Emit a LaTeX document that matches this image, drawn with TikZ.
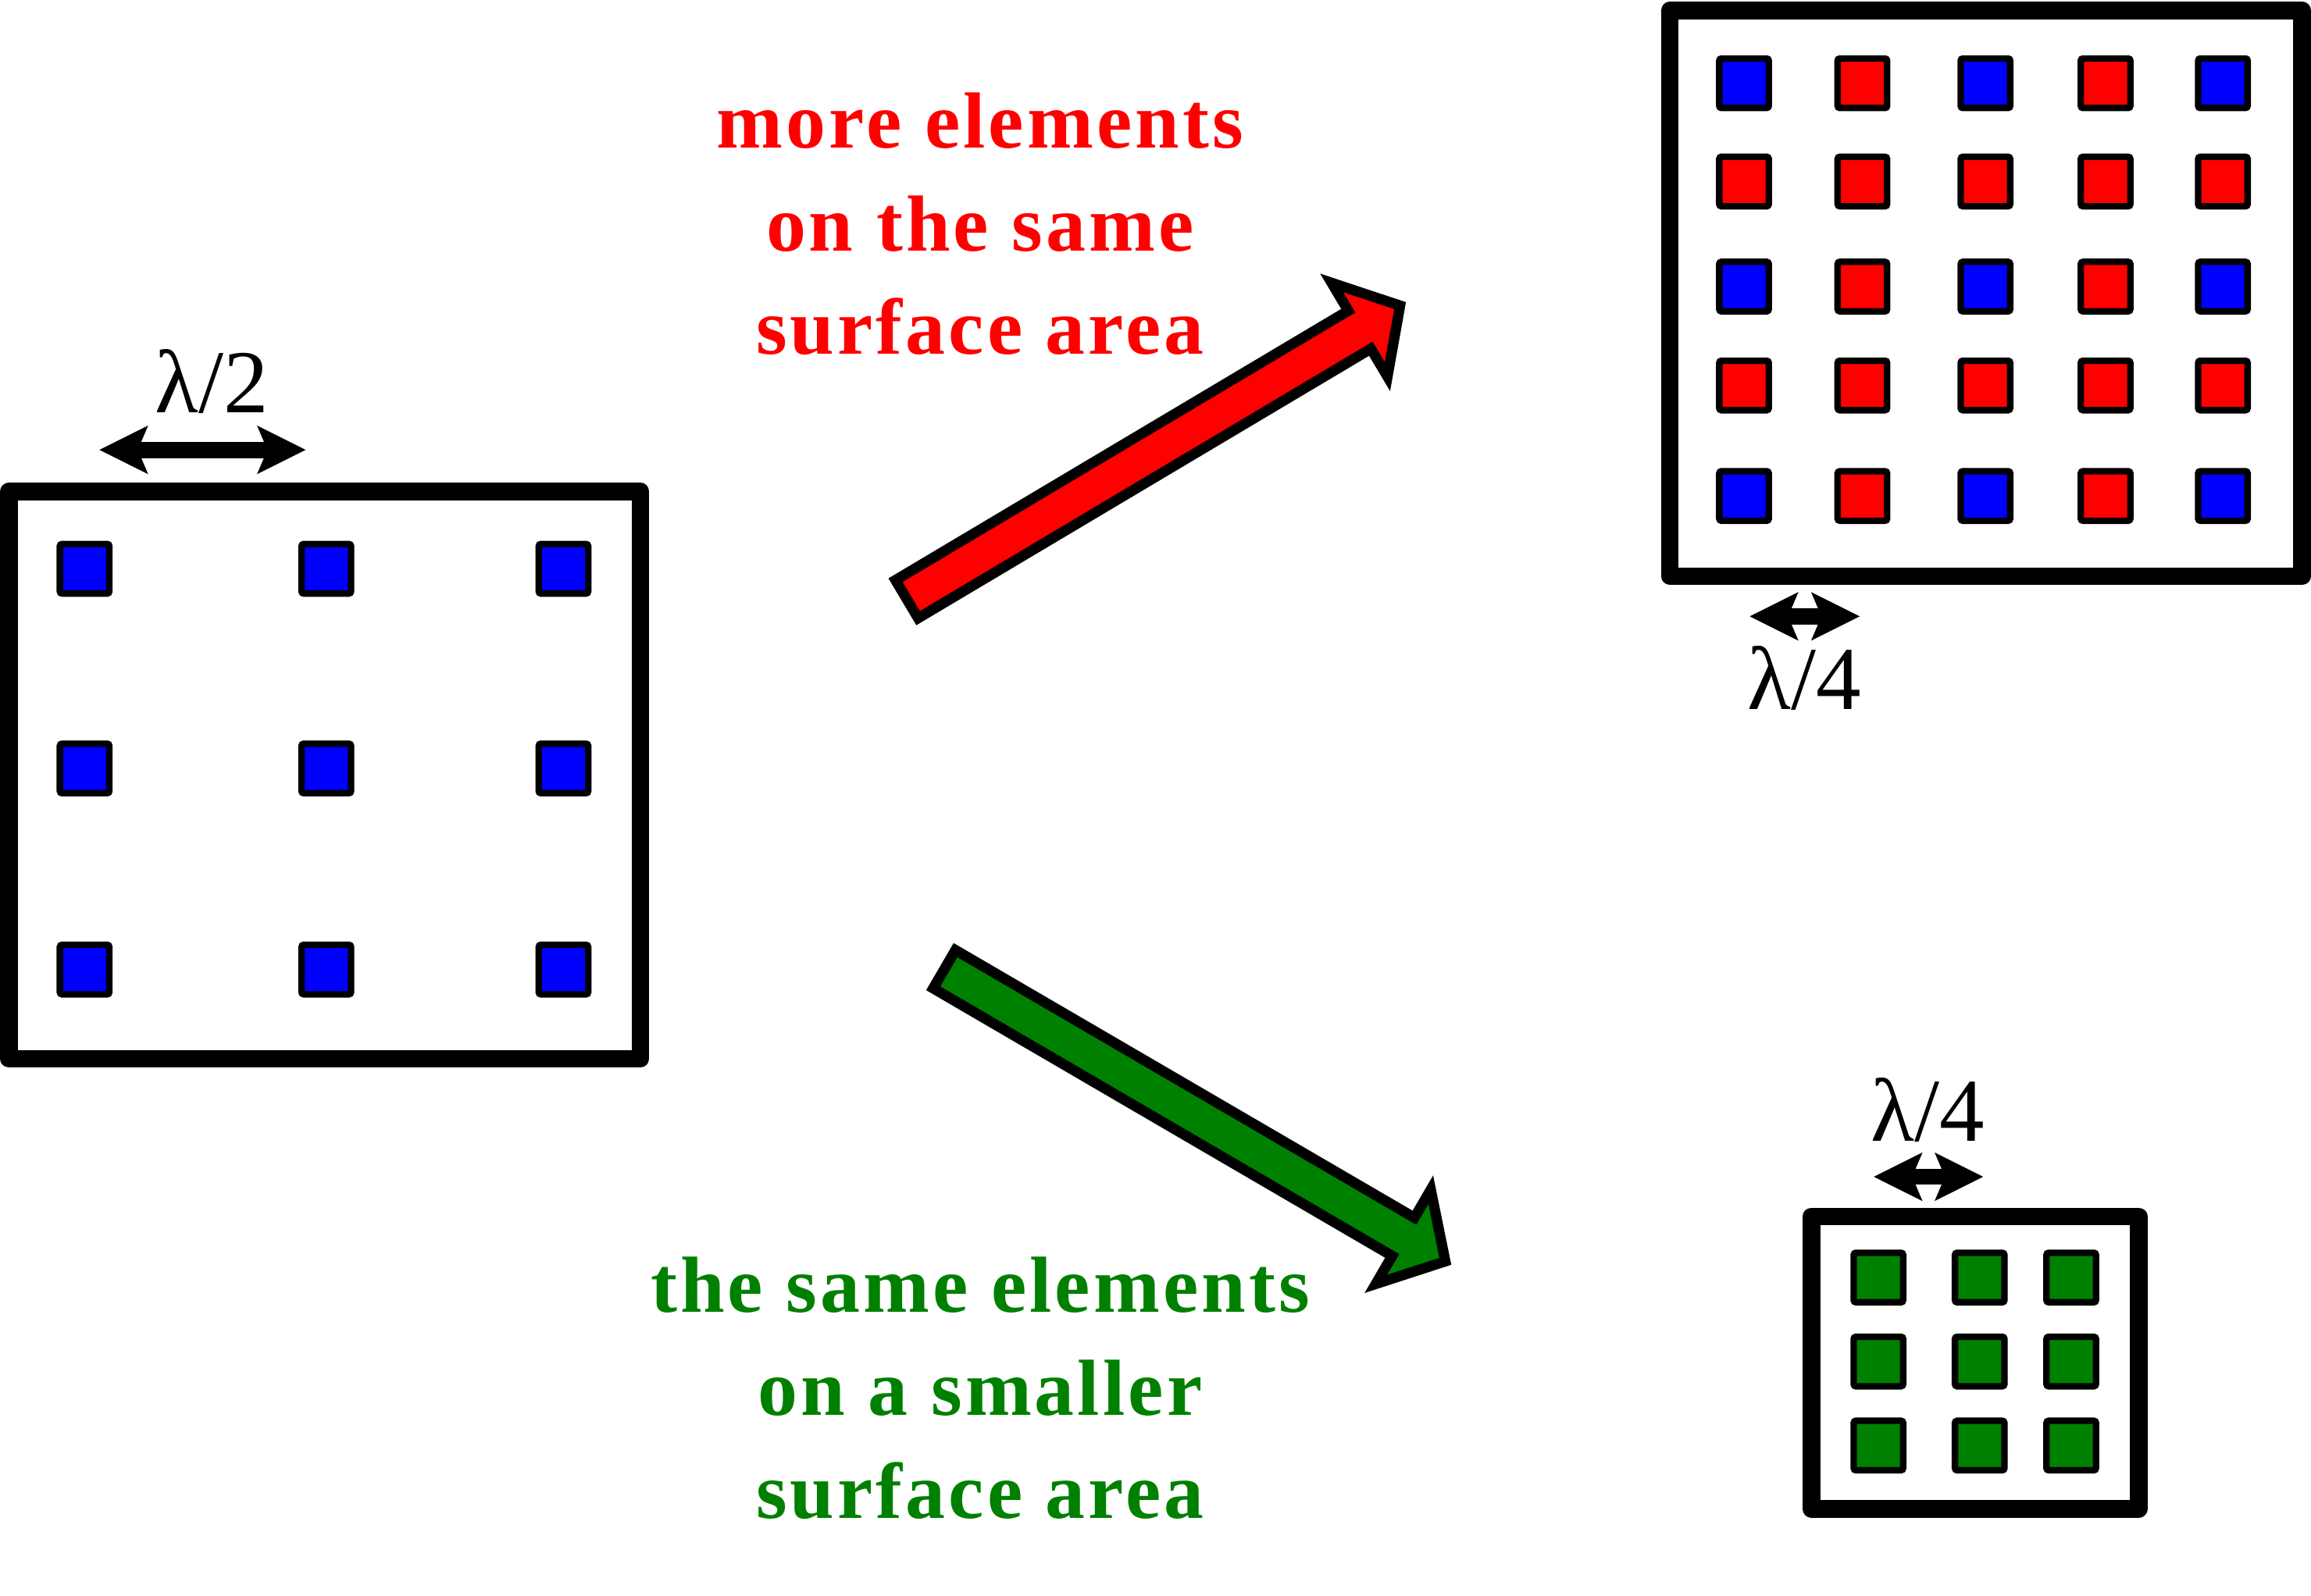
\documentclass[tikz,border=0pt]{standalone}
\usepackage{fontspec}
\setmainfont{Liberation Serif}
\newfontfamily\msgfont[LetterSpace=4]{Liberation Serif}
\usetikzlibrary{arrows.meta}
\definecolor{elblue}{RGB}{0,0,255}
\definecolor{elred}{RGB}{255,0,0}
\definecolor{elgreen}{RGB}{0,128,0}
\tikzset{
  panel/.style={draw=black, line width=12pt, line join=round, fill=white, inner sep=0pt},
  elem/.style={draw=black, line width=4.4pt, rounded corners=1.5pt, minimum size=33.6pt, inner sep=0pt},
  dimarrow/.style={line width=11pt,
    {Stealth[length=33pt,width=33pt,inset=7pt,line width=0pt]}-{Stealth[length=33pt,width=33pt,inset=7pt,line width=0pt]}},
  lam/.style={font=\fontsize{61}{64}\selectfont, inner sep=0pt},
  msg/.style={font=\msgfont\bfseries\fontsize{54}{70}\selectfont, inner sep=0pt},
  bigarrow/.style={draw=black, line width=7pt, line join=miter, miter limit=10}
}
\begin{document}
\begin{tikzpicture}[x=1pt, y=-1pt]
\useasboundingbox (0,0) rectangle (1568,1083);
\fill[white] (0,0) rectangle (1568,1083);

% panels
\node[panel, minimum width=428.5pt, minimum height=384.9pt] (left) at (220.25,526.05) {};
\node[panel, minimum width=429pt, minimum height=384pt] (dense) at (1347.5,199) {};
\node[panel, minimum width=222pt, minimum height=198.5pt] (small) at (1340,924.75) {};

% left elements
\foreach \x [count=\i] in {57.4,221.4,382.3}
  \foreach \y [count=\j] in {386,521.5,658}
    \node[elem, fill=elblue] (L\j\i) at (\x,\y) {};

% dense elements
\foreach \y [count=\j] in {56.5,123.2,194.5,261.6,336.6}
  \foreach \x [count=\i] in {1183.3,1263.6,1347.1,1428.6,1508.2} {
    \pgfmathtruncatemacro{\isblue}{(mod(\i,2)==1) && (mod(\j,2)==1)}
    \ifnum\isblue=1
      \node[elem, fill=elblue] (D\j\i) at (\x,\y) {};
    \else
      \node[elem, fill=elred] (D\j\i) at (\x,\y) {};
    \fi
  }

% small elements
\foreach \x [count=\i] in {1274.5,1343.2,1405.3}
  \foreach \y [count=\j] in {867,924,981}
    \node[elem, fill=elgreen] (S\j\i) at (\x,\y) {};

% dimension arrows and labels
\coordinate (d2a) at (67.5,305.3);
\coordinate (d2b) at (207.4,305.3);
\draw[dimarrow] (d2a) -- (d2b);
\node[lam, anchor=base] (lab2) at (143.7,280) {λ/2};

\coordinate (d4a) at (1187.2,418.3);
\coordinate (d4b) at (1261.8,418.3);
\draw[dimarrow] (d4a) -- (d4b);
\node[lam, anchor=base] (lab4a) at (1224,481.4) {λ/4};

\coordinate (d4c) at (1271.4,798.6);
\coordinate (d4d) at (1345.6,798.6);
\draw[dimarrow] (d4c) -- (d4d);
\node[lam, anchor=base] (lab4b) at (1308,774.5) {λ/4};

% big arrows
\begin{scope}[shift={(612.25,408.4)}, rotate=30.76]
  \draw[bigarrow, fill=elred] (3.5,15) -- (361,15) -- (361,37) -- (393,0) -- (361,-37) -- (361,-15) -- (3.5,-15) -- cycle;
\end{scope}
\begin{scope}[shift={(637.7,656)}, rotate=-30.25]
  \draw[bigarrow, fill=elgreen] (3.5,15) -- (364,15) -- (364,37) -- (397,0) -- (364,-37) -- (364,-15) -- (3.5,-15) -- cycle;
\end{scope}

% messages
\node[msg, text=elred, anchor=base] (more) at (665,100.3)
  {\begin{tabular}[t]{@{}c@{}}more elements\\on the same\\surface area\end{tabular}};
\node[msg, text=elgreen, anchor=base] (same) at (665,890.6)
  {\begin{tabular}[t]{@{}c@{}}the same elements\\on a smaller\\surface area\end{tabular}};
\end{tikzpicture}
\end{document}
